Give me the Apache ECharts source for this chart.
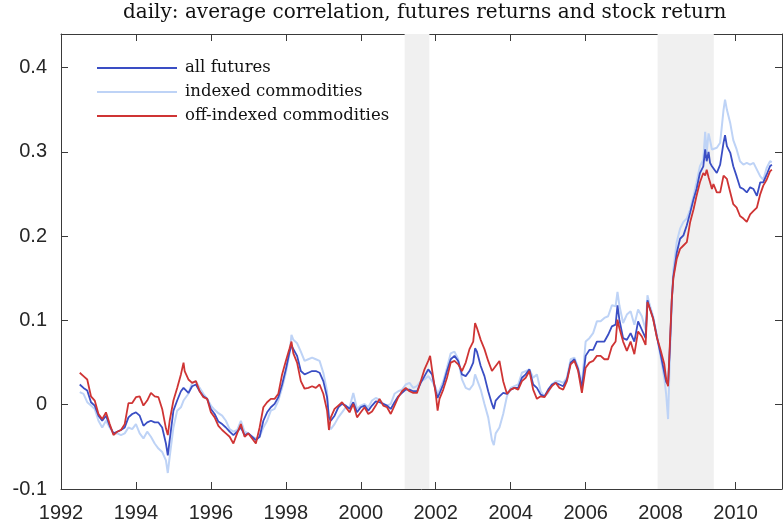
<!DOCTYPE html>
<html>
<head>
<meta charset="utf-8">
<script src="https://cdn.jsdelivr.net/npm/echarts@6/dist/echarts.min.js"></script>
<style>
html,body{margin:0;padding:0;background:#fff;}
#c{width:783px;height:528px;}
</style>
</head>
<body>
<div id="c"></div>
<script>
var titleText = 'daily: average correlation, futures returns and stock return';
var seriesNames = ['all futures', 'indexed commodities', 'off-indexed commodities'];
var xTicks = [1992, 1994, 1996, 1998, 2000, 2002, 2004, 2006, 2008, 2010];
var yTicks = [-0.1, 0, 0.1, 0.2, 0.3, 0.4];
var recessions = [[2001.17, 2001.83], [2007.92, 2009.42]];

var dates = [
1992.5,1992.6,1992.7,1992.8,1992.9,1993.0,1993.1,1993.2,1993.3,1993.4,1993.5,1993.6,1993.7,1993.8,1993.9,
1994.0,1994.1,1994.2,1994.3,1994.4,1994.5,1994.6,1994.7,1994.8,1994.85,1994.9,1995.0,1995.1,1995.2,1995.27,
1995.3,1995.4,1995.5,1995.6,1995.7,1995.8,1995.9,1996.0,1996.1,1996.2,1996.3,1996.4,1996.5,1996.6,1996.7,
1996.8,1996.9,1997.0,1997.1,1997.2,1997.3,1997.4,1997.5,1997.6,1997.7,1997.8,1997.9,1998.0,1998.1,1998.15,
1998.2,1998.3,1998.4,1998.5,1998.6,1998.7,1998.8,1998.9,1999.0,1999.1,1999.15,1999.2,1999.3,1999.4,1999.5,
1999.6,1999.7,1999.8,1999.9,2000.0,2000.1,2000.2,2000.3,2000.4,2000.5,2000.6,2000.7,2000.8,2000.9,2001.0,
2001.1,2001.2,2001.3,2001.4,2001.5,2001.6,2001.7,2001.8,2001.85,2001.9,2002.0,2002.05,2002.1,2002.2,2002.3,
2002.4,2002.5,2002.6,2002.7,2002.8,2002.9,2003.0,2003.05,2003.1,2003.2,2003.3,2003.4,2003.5,2003.55,2003.6,
2003.7,2003.8,2003.9,2004.0,2004.1,2004.2,2004.3,2004.4,2004.5,2004.6,2004.7,2004.8,2004.9,2005.0,2005.1,
2005.2,2005.3,2005.4,2005.5,2005.6,2005.7,2005.8,2005.9,2006.0,2006.1,2006.2,2006.3,2006.4,2006.5,2006.6,
2006.7,2006.8,2006.85,2006.9,2007.0,2007.1,2007.2,2007.3,2007.4,2007.5,2007.6,2007.65,2007.7,2007.8,2007.9,
2008.0,2008.1,2008.15,2008.2,2008.25,2008.3,2008.34,2008.43,2008.52,2008.61,2008.70,2008.79,2008.88,2008.96,2009.05,
2009.14,2009.19,2009.23,2009.28,2009.32,2009.37,2009.41,2009.50,2009.59,2009.68,2009.72,2009.77,2009.86,2009.94,2010.03,
2010.12,2010.21,2010.30,2010.39,2010.48,2010.57,2010.66,2010.74,2010.83,2010.92,2010.97
];

var offIndexed = [
0.038,0.034,0.030,0.010,0.005,-0.011,-0.017,-0.009,-0.023,-0.036,-0.032,-0.030,-0.023,0.002,0.002,
0.009,0.010,-0.001,0.005,0.014,0.010,0.009,-0.005,-0.028,-0.036,-0.019,0.005,0.020,0.036,0.050,
0.040,0.030,0.026,0.028,0.016,0.009,0.007,-0.009,-0.015,-0.025,-0.030,-0.034,-0.038,-0.046,-0.034,
-0.023,-0.038,-0.034,-0.040,-0.046,-0.027,-0.003,0.003,0.007,0.007,0.013,0.036,0.052,0.067,0.075,
0.061,0.050,0.028,0.019,0.020,0.022,0.020,0.024,0.013,-0.007,-0.030,-0.015,-0.005,-0.001,0.003,
-0.003,-0.009,0.001,-0.015,-0.009,-0.003,-0.011,-0.008,-0.001,0.007,-0.001,-0.003,-0.011,-0.001,0.009,
0.016,0.020,0.016,0.014,0.014,0.028,0.042,0.052,0.058,0.042,0.013,-0.007,0.007,0.018,0.032,
0.050,0.052,0.048,0.040,0.050,0.066,0.075,0.097,0.091,0.077,0.066,0.052,0.040,0.042,0.046,
0.052,0.028,0.013,0.018,0.020,0.018,0.028,0.032,0.040,0.018,0.007,0.010,0.009,0.016,0.022,
0.026,0.020,0.018,0.028,0.048,0.052,0.040,0.014,0.044,0.050,0.052,0.058,0.058,0.054,0.054,
0.069,0.075,0.101,0.091,0.075,0.064,0.075,0.060,0.087,0.081,0.071,0.122,0.116,0.102,0.080,
0.065,0.048,0.030,0.022,0.075,0.126,0.150,0.173,0.185,0.189,0.193,0.217,0.232,0.248,0.264,
0.275,0.272,0.279,0.270,0.264,0.256,0.262,0.252,0.252,0.272,0.270,0.268,0.252,0.238,0.234,
0.224,0.221,0.217,0.226,0.230,0.234,0.250,0.260,0.267,0.277,0.279
];

var allFutures = [
0.024,0.020,0.017,0.003,-0.001,-0.013,-0.019,-0.013,-0.025,-0.034,-0.032,-0.030,-0.027,-0.015,-0.011,
-0.009,-0.013,-0.025,-0.021,-0.019,-0.021,-0.021,-0.027,-0.046,-0.060,-0.042,-0.007,0.005,0.016,0.020,
0.020,0.014,0.022,0.024,0.016,0.010,0.007,-0.005,-0.011,-0.020,-0.023,-0.027,-0.032,-0.036,-0.032,
-0.027,-0.036,-0.034,-0.038,-0.042,-0.038,-0.019,-0.009,-0.003,0.001,0.009,0.024,0.042,0.063,0.070,
0.071,0.058,0.040,0.036,0.038,0.040,0.040,0.038,0.028,0.009,-0.015,-0.019,-0.013,-0.003,0.001,
-0.001,-0.005,0.003,-0.009,-0.003,-0.001,-0.007,-0.001,0.004,0.003,0.001,-0.001,-0.005,0.003,0.010,
0.014,0.018,0.018,0.016,0.016,0.026,0.034,0.042,0.044,0.036,0.016,0.008,0.010,0.024,0.040,
0.054,0.058,0.052,0.036,0.034,0.040,0.050,0.067,0.063,0.046,0.034,0.016,0.001,-0.005,0.005,
0.010,0.014,0.013,0.018,0.020,0.020,0.032,0.036,0.042,0.024,0.020,0.012,0.010,0.018,0.024,
0.026,0.024,0.022,0.030,0.050,0.054,0.042,0.020,0.058,0.065,0.065,0.075,0.075,0.075,0.083,
0.093,0.095,0.118,0.101,0.079,0.077,0.085,0.075,0.099,0.089,0.079,0.124,0.116,0.103,0.081,
0.060,0.038,0.027,0.024,0.070,0.125,0.152,0.180,0.197,0.201,0.213,0.228,0.244,0.256,0.275,
0.283,0.303,0.289,0.300,0.287,0.283,0.285,0.275,0.285,0.311,0.320,0.307,0.299,0.283,0.271,
0.258,0.256,0.252,0.258,0.256,0.248,0.264,0.264,0.273,0.283,0.285
];

var indexed = [
0.015,0.013,0.003,-0.001,-0.005,-0.019,-0.027,-0.019,-0.027,-0.034,-0.034,-0.036,-0.034,-0.027,-0.029,
-0.023,-0.034,-0.040,-0.032,-0.038,-0.046,-0.052,-0.056,-0.066,-0.081,-0.062,-0.027,-0.007,-0.003,0.005,
0.007,0.013,0.026,0.028,0.020,0.013,0.007,-0.001,-0.006,-0.010,-0.013,-0.019,-0.029,-0.032,-0.030,
-0.019,-0.032,-0.034,-0.038,-0.040,-0.038,-0.027,-0.019,-0.007,-0.005,0.005,0.020,0.038,0.061,0.083,
0.077,0.073,0.063,0.052,0.054,0.056,0.054,0.052,0.038,0.016,-0.025,-0.029,-0.023,-0.015,-0.009,
-0.003,-0.003,0.014,-0.005,-0.001,0.001,-0.003,0.005,0.008,0.006,0.001,-0.001,0.001,0.013,0.016,
0.018,0.024,0.026,0.020,0.022,0.028,0.030,0.034,0.034,0.028,0.020,0.012,0.014,0.028,0.044,
0.061,0.063,0.054,0.030,0.020,0.018,0.024,0.036,0.034,0.018,0.001,-0.015,-0.042,-0.048,-0.034,
-0.027,-0.011,0.010,0.020,0.022,0.024,0.038,0.040,0.042,0.032,0.036,0.016,0.010,0.014,0.024,
0.028,0.028,0.026,0.032,0.054,0.056,0.044,0.024,0.075,0.079,0.085,0.099,0.099,0.103,0.105,
0.118,0.117,0.134,0.118,0.097,0.107,0.111,0.095,0.113,0.105,0.089,0.130,0.120,0.105,0.083,
0.057,0.031,0.012,-0.017,0.060,0.125,0.160,0.193,0.209,0.217,0.221,0.232,0.248,0.264,0.283,
0.291,0.324,0.299,0.322,0.314,0.303,0.305,0.305,0.311,0.350,0.362,0.350,0.334,0.314,0.303,
0.289,0.285,0.287,0.285,0.287,0.279,0.271,0.267,0.281,0.289,0.288
];

var colors = {
  'all futures': '#3a4ec4',
  'indexed commodities': '#bed3f6',
  'off-indexed commodities': '#cf3434'
};

function zip(xs, ys) {
  var out = [];
  for (var i = 0; i < xs.length; i++) out.push([xs[i], ys[i]]);
  return out;
}

var chart = echarts.init(document.getElementById('c'), null, {renderer: 'canvas'});

var axisLineStyle = {color: '#3a3a3a', width: 1};
var labelFont = {fontFamily: 'Liberation Sans, Arial, sans-serif', fontSize: 20, color: '#262626'};

function xFmt(v) {
  var r = Math.round(v);
  if (Math.abs(v - r) > 1e-6 || r % 2 !== 0) return '';
  return String(r);
}
function yFmt(v) {
  var r = Math.round(v * 10) / 10;
  if (Math.abs(v - r) > 1e-6 || r > 0.41) return '';
  if (Math.abs(r) < 1e-9) return '0';
  return r.toFixed(1);
}

var xmin = xTicks[0], xmax = 2011.24;
var ymin = yTicks[0], ymax = 0.44;

var option = {
  animation: false,
  backgroundColor: '#ffffff',
  graphic: [{
    type: 'text',
    left: 123,
    top: 3,
    style: {
      text: titleText,
      font: '20px "DejaVu Serif", serif',
      fill: '#111'
    }
  }],
  grid: {left: 61, right: 1, top: 34, bottom: 39, containLabel: false},
  legend: {
    orient: 'vertical',
    left: 97,
    top: 58,
    padding: 0,
    itemWidth: 80,
    itemHeight: 2,
    itemGap: 4,
    icon: 'rect',
    data: seriesNames,
    textStyle: {
      fontFamily: '"DejaVu Serif", serif',
      fontSize: 16.5,
      color: '#111',
      lineHeight: 20,
      padding: [0, 0, 0, 3]
    }
  },
  xAxis: [{
    type: 'value', position: 'bottom', min: xmin, max: xmax, interval: 2,
    axisLine: {show: true, onZero: false, lineStyle: axisLineStyle},
    axisTick: {show: true, inside: true, length: 7, lineStyle: axisLineStyle},
    axisLabel: Object.assign({margin: 14, formatter: xFmt, showMaxLabel: false}, labelFont),
    splitLine: {show: false}
  }, {
    type: 'value', position: 'top', min: xmin, max: xmax, interval: 2,
    axisLine: {show: true, onZero: false, lineStyle: axisLineStyle},
    axisTick: {show: true, inside: true, length: 7, lineStyle: axisLineStyle},
    axisLabel: {show: false},
    splitLine: {show: false}
  }],
  yAxis: [{
    type: 'value', position: 'left', min: ymin, max: ymax, interval: 0.1,
    axisLine: {show: true, onZero: false, lineStyle: axisLineStyle},
    axisTick: {show: true, inside: true, length: 7, lineStyle: axisLineStyle},
    axisLabel: Object.assign({margin: 14, formatter: yFmt}, labelFont),
    splitLine: {show: false}
  }, {
    type: 'value', position: 'right', min: ymin, max: ymax, interval: 0.1,
    axisLine: {show: true, onZero: false, lineStyle: axisLineStyle},
    axisTick: {show: true, inside: true, length: 7, lineStyle: axisLineStyle},
    axisLabel: {show: false},
    splitLine: {show: false}
  }],
  series: [
    {
      name: '_recessions', type: 'line', data: [], z: 1, silent: true,
      markArea: {
        silent: true,
        itemStyle: {color: '#f0f0f0'},
        data: recessions.map(function (r) { return [{xAxis: r[0]}, {xAxis: r[1]}]; })
      }
    },
    {
      name: 'indexed commodities', type: 'line', z: 2, showSymbol: false,
      data: zip(dates, indexed),
      lineStyle: {color: colors['indexed commodities'], width: 2},
      itemStyle: {color: colors['indexed commodities']}
    },
    {
      name: 'all futures', type: 'line', z: 3, showSymbol: false,
      data: zip(dates, allFutures),
      lineStyle: {color: colors['all futures'], width: 1.8},
      itemStyle: {color: colors['all futures']}
    },
    {
      name: 'off-indexed commodities', type: 'line', z: 4, showSymbol: false,
      data: zip(dates, offIndexed),
      lineStyle: {color: colors['off-indexed commodities'], width: 1.8},
      itemStyle: {color: colors['off-indexed commodities']}
    }
  ]
};
chart.setOption(option);
</script>
</body>
</html>
